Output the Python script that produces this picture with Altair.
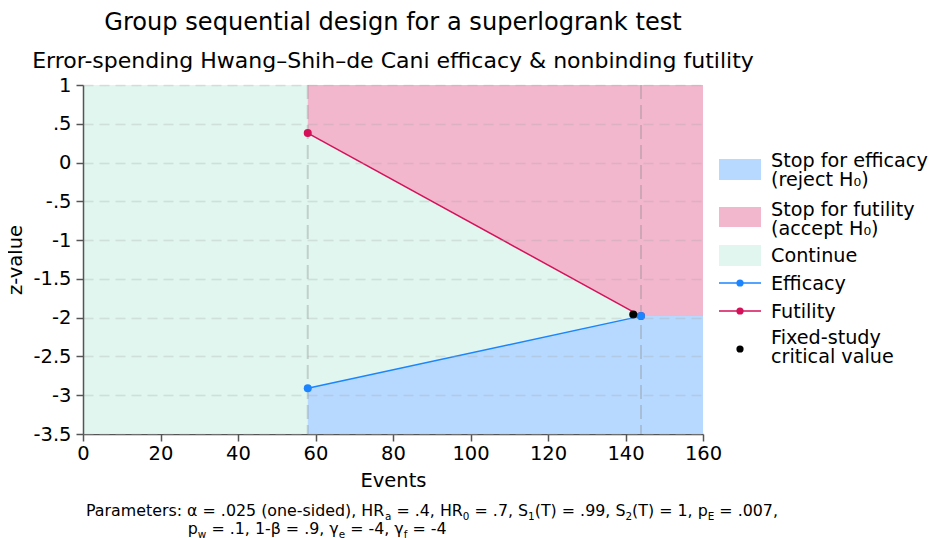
import altair as alt
import pandas as pd

# ---------------- data ----------------
look_events = [58, 144]            # interim and final analysis (events)
efficacy_z = [-2.91, -1.98]        # efficacy boundary (z)
futility_z = [0.38, -1.98]         # futility boundary (z)
max_events = 160                   # right edge of the x axis
fixed_events = [142]               # fixed-study design
fixed_z = [-1.96]                  # fixed-study critical value
x_ticks = [0, 20, 40, 60, 80, 100, 120, 140, 160]
y_ticks = [1, 0.5, 0, -0.5, -1, -1.5, -2, -2.5, -3, -3.5]
y_lo, y_hi = -3.5, 1.0

title_text = "Group sequential design for a superlogrank test"
subtitle_text = "Error-spending Hwang–Shih–de Cani efficacy & nonbinding futility"
legend_labels = ["Stop for efficacy\n(reject H₀)", "Stop for futility\n(accept H₀)",
                 "Continue", "Efficacy", "Futility", "Fixed-study\ncritical value"]
note_line1 = [("Parameters: α = .025 (one-sided), HR", 0), ("a", 1), (" = .4, HR", 0), ("0", 1),
              (" = .7, S", 0), ("1", 1), ("(T) = .99, S", 0), ("2", 1), ("(T) = 1, p", 0),
              ("E", 1), (" = .007,", 0)]
note_line2 = [("p", 0), ("w", 1), (" = .1, 1-β = .9, γ", 0), ("e", 1), (" = -4, γ", 0),
              ("f", 1), (" = -4", 0)]

# ---------------- styling ----------------
FONT = "DejaVu Sans"
BLUE, PINK = "#1a85ff", "#d41159"
BLUE_FILL, PINK_FILL, GREEN_FILL = "#b8d9ff", "#f2b7cd", "#e0f6ef"
W, H = 620, 349
FS = 19.5

xs = alt.Scale(domain=[0, max_events], nice=False, zero=False)
ys = alt.Scale(domain=[y_lo, y_hi], nice=False, zero=False)
x_axis = alt.Axis(values=x_ticks, format="d", grid=False, tickSize=7, labelPadding=3,
                  labelFlush=False, titlePadding=9)
y_axis = alt.Axis(values=y_ticks, grid=True, gridDash=[10, 6], gridColor="#a8a8a8",
                  gridOpacity=0.3, gridWidth=1.5, tickSize=7, labelPadding=5,
                  labelAngle=0, labelFlush=False, titlePadding=7, zindex=1,
                  labelExpr="replace('' + datum.value, '0.', '.')")

def X(field):
    return alt.X(field, scale=xs, axis=x_axis, title="Events")

def Y(field):
    return alt.Y(field, scale=ys, axis=y_axis, title="z-value")

# regions
bg = pd.DataFrame({"x0": [0], "x1": [max_events], "y0": [y_lo], "y1": [y_hi]})
reg = pd.DataFrame({"events": look_events + [max_events],
                    "eff": efficacy_z + [efficacy_z[-1]],
                    "fut": futility_z + [futility_z[-1]],
                    "lo": y_lo, "hi": y_hi})
looks = pd.DataFrame({"events": look_events, "eff": efficacy_z, "fut": futility_z})
fixed = pd.DataFrame({"events": fixed_events, "z": fixed_z})

green = alt.Chart(bg).mark_rect(color=GREEN_FILL).encode(x=X("x0:Q"), x2="x1:Q", y=Y("y0:Q"), y2="y1:Q")
pink = alt.Chart(reg).mark_area(color=PINK_FILL).encode(x=X("events:Q"), y=Y("fut:Q"), y2="hi:Q")
blue = alt.Chart(reg).mark_area(color=BLUE_FILL).encode(x=X("events:Q"), y=Y("lo:Q"), y2="eff:Q")
vlines = alt.Chart(looks).mark_rule(color="#8a8a8a", opacity=0.35, strokeWidth=2,
                                    strokeDash=[14, 6]).encode(x=X("events:Q"))
fut_line = alt.Chart(looks).mark_line(color=PINK, strokeWidth=1.5).encode(x=X("events:Q"), y=Y("fut:Q"))
eff_line = alt.Chart(looks).mark_line(color=BLUE, strokeWidth=1.5).encode(x=X("events:Q"), y=Y("eff:Q"))
fut_pts = alt.Chart(looks).mark_circle(color=PINK, size=64, opacity=1).encode(x=X("events:Q"), y=Y("fut:Q"))
eff_pts = alt.Chart(looks).mark_circle(color=BLUE, size=64, opacity=1).encode(x=X("events:Q"), y=Y("eff:Q"))
fix_pt = alt.Chart(fixed).mark_circle(color="black", size=64, opacity=1).encode(x=X("events:Q"), y=Y("z:Q"))

layers = [green, pink, blue, vlines, fut_line, eff_line, fut_pts, eff_pts, fix_pt]

# ---------------- legend (drawn to the right of the plot) ----------------
LX0, LX1, LTX = 636, 678, 688
LFS = 19.2
swatches = [(BLUE_FILL, 74, 95), (PINK_FILL, 122, 142), (GREEN_FILL, 160, 181)]
for col, a, b in swatches:
    layers.append(alt.Chart(pd.DataFrame({"c": [col]})).mark_rect(color=col).encode(
        x=alt.value(LX0), x2=alt.value(LX1), y=alt.value(a), y2=alt.value(b)))
for col, yy in [(BLUE, 198), (PINK, 226)]:
    layers.append(alt.Chart(pd.DataFrame({"c": [col]})).mark_rule(color=col, strokeWidth=1.5).encode(
        x=alt.value(LX0), x2=alt.value(LX1), y=alt.value(yy)))
    layers.append(alt.Chart(pd.DataFrame({"c": [col]})).mark_circle(color=col, size=52, opacity=1).encode(
        x=alt.value((LX0 + LX1) / 2), y=alt.value(yy)))
layers.append(alt.Chart(pd.DataFrame({"c": ["k"]})).mark_circle(color="black", size=52, opacity=1).encode(
    x=alt.value((LX0 + LX1) / 2), y=alt.value(264)))
for lab, yy in zip(legend_labels, [82, 131, 177, 205, 233, 259]):
    layers.append(alt.Chart(pd.DataFrame({"t": [lab]})).mark_text(
        align="left", baseline="alphabetic", font=FONT, fontSize=LFS, lineBreak="\n",
        lineHeight=19, color="black").encode(text="t:N", x=alt.value(LTX), y=alt.value(yy)))

# ---------------- footnote with subscripts ----------------
ADV = {' ': 651, '(': 799, ')': 799, ',': 651, '-': 739, '.': 651, ':': 690, '=': 1716,
       'E': 1294, 'H': 1540, 'P': 1235, 'R': 1423, 'S': 1300, 'T': 1251,
       'a': 1255, 'd': 1300, 'e': 1260, 'f': 721, 'i': 569, 'm': 1995, 'n': 1298,
       'o': 1253, 'p': 1300, 'r': 842, 's': 1067, 't': 803, 'u': 1298, 'w': 1675,
       'α': 1343, 'β': 1300, 'γ': 1212}
for d in "0123456789":
    ADV[d] = 1303

def width(s, size):
    return sum(ADV.get(ch, 1250) for ch in s) / 2048 * size

NFS, SFS = 15.85, 10.4
note_x0 = 3
line2_x0 = note_x0 + width("Parameters: ", NFS)
for segs, x0, base in [(note_line1, note_x0, 431), (note_line2, line2_x0, 449)]:
    xx = x0
    for txt, sub in segs:
        size = SFS if sub else NFS
        core = txt.strip(" ")
        lead = len(txt) - len(txt.lstrip(" "))
        start = xx + width(" " * lead, size)
        layers.append(alt.Chart(pd.DataFrame({"t": [core]})).mark_text(
            align="left", baseline="alphabetic", font=FONT, fontSize=size, color="black").encode(
            text="t:N", x=alt.value(start), y=alt.value(base + (3.5 if sub else 0))))
        xx += width(txt, size)

chart = alt.layer(*layers).properties(
    width=W, height=H,
    autosize=alt.AutoSizeParams(type="none"),
    padding={"left": 75, "top": 77, "right": 226, "bottom": 104},
    title=alt.Title(title_text, subtitle=subtitle_text, font=FONT, subtitleFont=FONT,
                    fontSize=24.1, subtitleFontSize=22, fontWeight="normal",
                    color="black", subtitleColor="black", anchor="middle", frame="group",
                    offset=3, subtitlePadding=16),
).configure_view(stroke=None).configure_axis(
    labelFont=FONT, titleFont=FONT, labelFontSize=FS, titleFontSize=FS,
    labelColor="black", titleColor="black", titleFontWeight="normal",
    domainColor="#555555", domainWidth=1.5, tickColor="#555555", tickWidth=1.5,
)

chart.save("out.html", embed_options={"renderer": "svg", "actions": False})
